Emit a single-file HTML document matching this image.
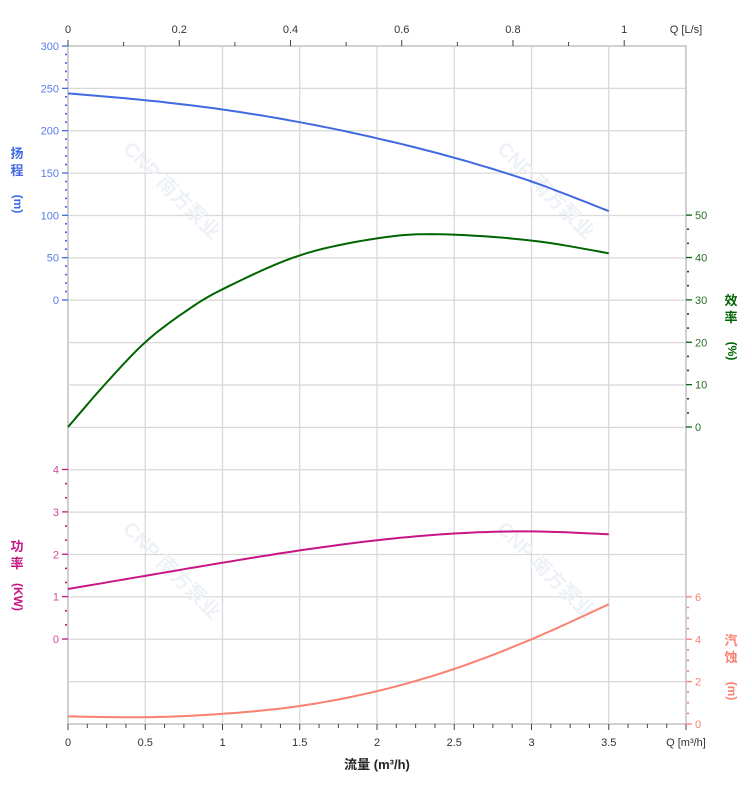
<!DOCTYPE html>
<html><head><meta charset="utf-8"><style>
html,body{margin:0;padding:0;background:#fff;}
svg{display:block;font-family:"Liberation Sans","Noto Sans CJK SC",sans-serif;}
</style></head><body>
<svg id="s" width="752" height="797" xmlns="http://www.w3.org/2000/svg"></svg>
<script>
const s=document.getElementById('s');let h='';
const X0=68,XS=154.5,Y0=46,YB=724,GS=42.375;
const X=v=>X0+v*XS;
for(let i=1;i<8;i++){h+=`<line x1="${X(i*0.5)}" y1="${Y0}" x2="${X(i*0.5)}" y2="${YB}" stroke="#d8d8d8" stroke-width="1.3"/>`;}
for(let i=1;i<16;i++){let y=Y0+i*GS;h+=`<line x1="${X0}" y1="${y}" x2="686" y2="${y}" stroke="#d8d8d8" stroke-width="1.3"/>`;}
[[122,150],[496,150],[122,530],[496,530]].forEach(([x,y])=>{h+=`<text x="${x}" y="${y}" transform="rotate(45 ${x} ${y})" font-size="20" font-weight="bold" fill="#eef2f7">CNP 南方泵业</text>`;});
h+=`<rect x="${X0}" y="${Y0}" width="${686-X0}" height="${YB-Y0}" fill="none" stroke="#d0d0d0" stroke-width="2"/>`;
for(let i=0;i<=10;i++){let x=X(i*0.36);h+=`<line x1="${x}" y1="${Y0}" x2="${x}" y2="${i%2==0?Y0-6:Y0-4}" stroke="#444"/>`;if(i%2==0)h+=`<text x="${x}" y="33" font-size="11" text-anchor="middle" fill="#333">${i==0?0:i==10?1:(i/10).toFixed(1)}</text>`;}
h+=`<text x="686" y="33" font-size="11" text-anchor="middle" fill="#333">Q [L/s]</text>`;
for(let i=0;i<=32;i++){let x=X(i*0.125);h+=`<line x1="${x}" y1="${YB}" x2="${x}" y2="${YB+(i%4==0?6:4)}" stroke="#444"/>`;}
for(let i=0;i<=7;i++){h+=`<text x="${X(i*0.5)}" y="746" font-size="11" text-anchor="middle" fill="#333">${i*0.5}</text>`;}
h+=`<text x="686" y="746" font-size="11" text-anchor="middle" fill="#333">Q [m³/h]</text>`;
h+=`<text x="377" y="769" font-size="13" font-weight="bold" text-anchor="middle" fill="#222">流量 (m³/h)</text>`;
function axis(side,y0,pxPer,max,nMinor,step,col,lab){
  const n=Math.round(max/step)*nMinor;
  for(let k=0;k<=n;k++){let v=k*step/nMinor;let y=y0-v*pxPer;let major=k%nMinor==0;
    if(side=='L')h+=`<line x1="${X0-(major?6:3)}" y1="${y}" x2="${major?X0:X0-1}" y2="${y}" stroke="${col}" stroke-width="${major?1.3:1.6}"/>`;
    else h+=`<line x1="${major?686:687}" y1="${y}" x2="${686+(major?6:3)}" y2="${y}" stroke="${col}" stroke-width="${major?1.3:1.6}"/>`;
    if(major){let t=Math.round(v);
      if(side=='L')h+=`<text x="${X0-9}" y="${y+4}" font-size="11" text-anchor="end" fill="${lab}">${t}</text>`;
      else h+=`<text x="${695}" y="${y+4}" font-size="11" fill="${lab}">${t}</text>`;}
  }
}
axis('L',300,254/300,300,5,50,'#4169e1','#5b7be8');
axis('L',639,GS,4,3,1,'#c71585','#d0479a');
axis('R',427,GS/10,50,3,10,'#006400','#2a6d2a');
axis('R',724,GS/2,6,4,2,'#fa8072','#fa8072');
function vlab(x,y,chars,unit,col){chars.forEach((c,i)=>{h+=`<text x="${x}" y="${y+i*17}" font-size="13" font-weight="bold" text-anchor="middle" fill="${col}">${c}</text>`;});
 let uy=y+chars.length*17+12;h+=`<text x="${x}" y="${uy}" transform="rotate(90 ${x} ${uy})" font-size="12" font-weight="bold" text-anchor="middle" dominant-baseline="middle" fill="${col}">${unit}</text>`;}
vlab(17,158,['扬','程'],'(m)','#4169e1');
vlab(17,551,['功','率'],'(KW)','#c71585');
vlab(731,305,['效','率'],'(%)','#006400');
vlab(731,645,['汽','蚀'],'(m)','#fa8072');
function curve(pts,y0,pxPer,col){let d=pts.map((p,i)=>(i?'L':'M')+X(p[0]).toFixed(1)+','+(y0-p[1]*pxPer).toFixed(1)).join(' ');h+=`<path d="${d}" fill="none" stroke="${col}" stroke-width="2"/>`;}
function interp(pts){const n=pts.length,out=[];for(let i=0;i<n-1;i++){const p0=pts[Math.max(0,i-1)],p1=pts[i],p2=pts[i+1],p3=pts[Math.min(n-1,i+2)];for(let t=0;t<1;t+=0.1){const t2=t*t,t3=t2*t;const f=(a,b,c,d)=>0.5*(2*b+(-a+c)*t+(2*a-5*b+4*c-d)*t2+(-a+3*b-3*c+d)*t3);out.push([f(p0[0],p1[0],p2[0],p3[0]),f(p0[1],p1[1],p2[1],p3[1])]);}}out.push(pts[n-1]);return out;}
curve(interp([[0,244],[0.5,236],[1,225],[1.5,210],[2,191],[2.5,168],[3,140],[3.5,105]]),300,254/300,'#4169e1');
curve(interp([[0,0],[0.25,10.5],[0.5,20],[0.75,27],[1,32.5],[1.5,40.5],[2,44.5],[2.4,45.5],[3,44],[3.5,41]]),427,GS/10,'#006400');
curve(interp([[0,1.18],[0.5,1.49],[1,1.8],[1.5,2.09],[2,2.33],[2.5,2.49],[3,2.54],[3.5,2.47]]),639,GS,'#c71585');
curve(interp([[0,0.36],[0.5,0.32],[1,0.48],[1.5,0.85],[2,1.55],[2.5,2.6],[3,4.0],[3.5,5.65]]),724,GS/2,'#fa8072');
s.innerHTML=h;
</script>
</body></html>
